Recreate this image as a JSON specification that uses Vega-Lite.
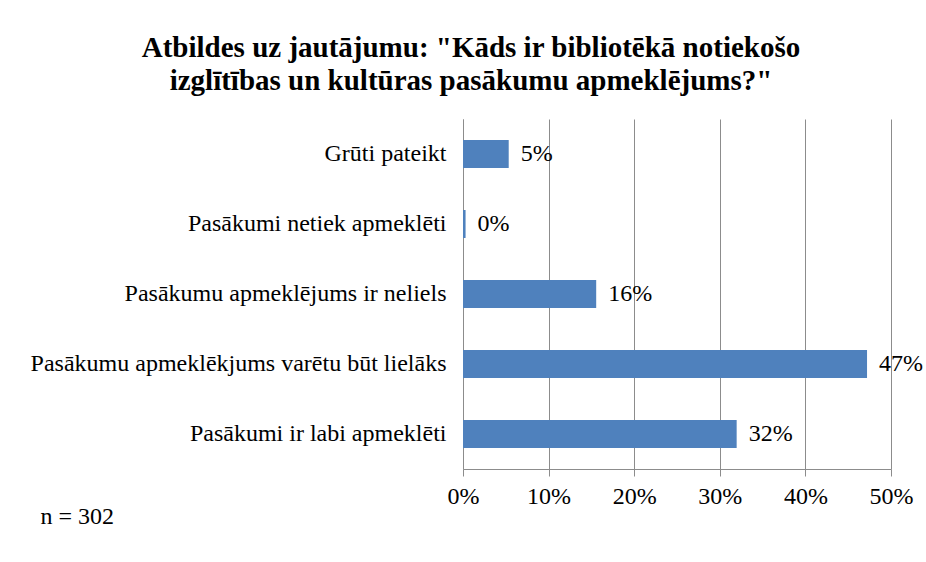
{
  "$schema": "https://vega.github.io/schema/vega-lite/v6.json",
  "width": 428,
  "height": 350,
  "autosize": {"type": "none"},
  "padding": {"left": 463, "top": 119, "right": 35, "bottom": 93},
  "background": "white",
  "title": {
    "text": ["Atbildes uz jautājumu: \"Kāds ir bibliotēkā notiekošo", "izglītības un kultūras pasākumu apmeklējums?\""],
    "font": "Liberation Serif",
    "fontSize": 29,
    "fontWeight": "bold",
    "color": "black",
    "lineHeight": 33,
    "anchor": "middle",
    "frame": "group",
    "dx": -206,
    "offset": 23
  },
  "data": {
    "values": [
      {"atbilde": "Grūti pateikt", "v": 0.0534},
      {"atbilde": "Pasākumi netiek apmeklēti", "v": 0.003},
      {"atbilde": "Pasākumu apmeklējums ir neliels", "v": 0.1556},
      {"atbilde": "Pasākumu apmeklēkjums varētu būt lielāks", "v": 0.472},
      {"atbilde": "Pasākumi ir labi apmeklēti", "v": 0.3197}
    ]
  },
  "encoding": {
    "y": {
      "field": "atbilde",
      "type": "nominal",
      "sort": null,
      "scale": {"paddingInner": 0.6, "paddingOuter": 0.3},
      "axis": {
        "title": null,
        "labelFont": "Liberation Serif",
        "labelFontSize": 24,
        "labelColor": "black",
        "labelPadding": 17,
        "labelLimit": 600,
        "ticks": false,
        "domainColor": "#8c8c8c",
        "domainWidth": 1
      }
    },
    "x": {
      "field": "v",
      "type": "quantitative",
      "scale": {"domain": [0, 0.5], "nice": false},
      "axis": {
        "format": ".0%",
        "values": [0, 0.1, 0.2, 0.3, 0.4, 0.5],
        "title": "n = 302",
        "titleFont": "Liberation Serif",
        "titleFontSize": 24,
        "titleFontWeight": "normal",
        "titleColor": "black",
        "titleAlign": "left",
        "titleBaseline": "middle",
        "titleAnchor": "start",
        "titleX": -423,
        "titleY": 47,
        "labelFont": "Liberation Serif",
        "labelFontSize": 24,
        "labelColor": "black",
        "labelPadding": 8,
        "labelFlush": false,
        "tickSize": 7,
        "tickColor": "#8c8c8c",
        "domainColor": "#8c8c8c",
        "grid": true,
        "gridColor": "#8c8c8c",
        "gridWidth": 1
      }
    }
  },
  "layer": [
    {"mark": {"type": "bar", "color": "#4F81BD"}},
    {
      "mark": {"type": "text", "align": "left", "baseline": "middle", "dx": 12, "font": "Liberation Serif", "fontSize": 24, "color": "black"},
      "encoding": {"text": {"field": "v", "type": "quantitative", "format": ".0%"}}
    }
  ],
  "config": {"view": {"stroke": null}}
}
